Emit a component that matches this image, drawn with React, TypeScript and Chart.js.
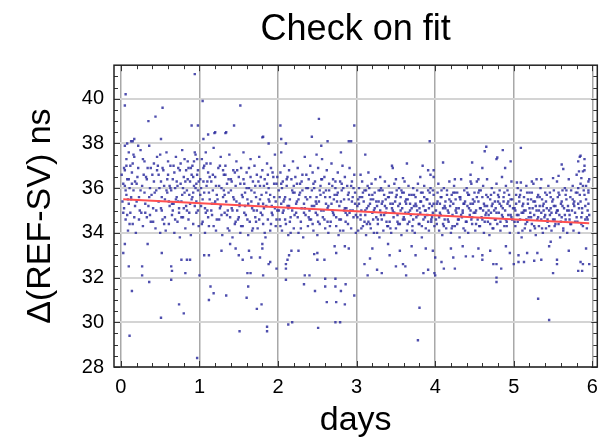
import { useEffect, useRef } from "react";
import { Chart, registerables } from "chart.js";
Chart.register(...registerables);

const FONT = "'Liberation Sans', Arial, sans-serif";

const titleText = "Check on fit";
const xTitle = "days";
const yTitle = "Δ(REF-SV) ns";

const xMinorTicks = [0,0.2,0.4,0.6,0.8,1,1.2,1.4,1.6,1.8,2,2.2,2.4,2.6,2.8,3,3.2,3.4,3.6,3.8,4,4.2,4.4,4.6,4.8,5,5.2,5.4,5.6,5.8,6];
const yMinorTicks = [28,28.5,29,29.5,30,30.5,31,31.5,32,32.5,33,33.5,34,34.5,35,35.5,36,36.5,37,37.5,38,38.5,39,39.5,40,40.5,41];

const fitX = [0.03, 5.96];
const fitY = [35.5, 34.43];

const day0: number[][] = [
[0.03,36.2],[0.04,35.1],[0.05,37.9],[0.05,36.8],[0.06,34.6],[0.07,35.7],[0.07,37.3],[0.08,36.4],[0.09,34.1],[0.1,35.3],[0.1,37.6],[0.11,36.0],[0.12,34.9],[0.12,37.0],[0.13,35.6],[0.14,36.7],[0.15,34.4],[0.15,38.1],[0.16,35.9],[0.17,37.4],[0.18,36.3],[0.19,34.0],[0.2,35.4],[0.22,36.9],[0.24,35.0],[0.25,37.7],[0.27,36.1],[0.28,34.3],[0.3,35.8],[0.3,37.2],[0.32,36.5],[0.33,34.7],[0.35,35.2],[0.36,37.9],[0.37,36.0],[0.38,34.5],[0.4,36.6],[0.41,35.1],[0.42,37.1],[0.44,34.2],[0.45,35.9],[0.46,36.8],[0.48,35.4],[0.5,34.0],[0.5,37.5],[0.51,36.3],[0.52,35.0],[0.53,34.6],[0.55,36.1],[0.56,35.5],[0.57,34.1],[0.58,37.6],[0.59,35.8],[0.6,36.6],[0.61,34.4],[0.62,35.2],[0.63,37.0],[0.64,35.9],[0.65,34.8],[0.66,36.4],[0.67,35.3],[0.68,34.0],[0.69,36.0],[0.7,37.4],[0.71,35.6],[0.72,34.5],[0.73,36.9],[0.74,35.1],[0.75,33.8],[0.76,36.2],[0.77,35.4],[0.78,37.7],[0.79,34.7],[0.8,36.5],[0.81,35.8],[0.82,34.2],[0.83,36.8],[0.84,35.0],[0.85,37.2],[0.86,34.6],[0.87,35.7],[0.88,36.3],[0.89,33.9],[0.9,35.5],[0.91,37.0],[0.92,34.4],[0.93,36.1],[0.94,35.2],[0.95,37.5],[0.96,34.9],[0.97,36.6],[0.98,35.9],[0.99,34.3],
[0.02,35.4],[0.04,36.9],[0.06,35.9],[0.08,34.8],[0.1,36.4],[0.13,35.5],[0.15,37.1],[0.17,34.7],[0.2,36.2],[0.23,35.6],[0.26,34.9],[0.29,36.6],[0.31,35.3],[0.34,36.9],[0.37,34.8],[0.39,35.7],[0.42,36.3],[0.45,35.0],[0.47,37.0],[0.49,36.0],[0.52,35.6],[0.54,36.8],[0.56,34.7],[0.59,36.4],[0.61,35.4],[0.63,36.0],[0.66,35.0],[0.68,36.7],[0.7,35.5],[0.72,36.1],[0.74,34.9],[0.76,37.1],[0.78,35.7],[0.8,35.1],[0.82,36.3],[0.84,35.9],[0.86,36.9],[0.88,35.3],[0.9,36.6],[0.92,35.8],[0.93,37.2],[0.95,36.0],[0.96,35.4],[0.97,37.3],[0.98,36.8],[0.99,36.3],
[0.01,36.6],[0.03,34.9],[0.05,36.1],[0.07,37.0],[0.09,35.5],[0.11,34.4],[0.14,36.2],[0.16,37.5],[0.18,35.2],[0.21,36.5],[0.23,34.6],[0.25,35.9],[0.28,37.3],[0.31,34.9],[0.33,36.4],[0.36,35.6],[0.38,36.9],[0.41,34.5],[0.43,35.8],[0.46,37.4],[0.48,36.6],[0.51,35.1],[0.53,36.9],[0.55,34.4],[0.58,35.9],[0.6,37.2],[0.62,36.1],[0.65,35.3],[0.67,37.0],[0.69,34.6],[0.71,36.3],[0.73,35.4],[0.75,36.8],[0.77,34.7],[0.79,36.0],[0.81,37.3],[0.83,35.2],[0.85,36.4],[0.87,34.9],[0.89,36.9],[0.91,35.6],[0.92,36.5],[0.94,37.6],[0.96,36.2],[0.98,35.0],
[0.06,40.2],[0.05,39.7],[0.53,39.6],[0.44,39.2],[0.35,39.0],[0.94,41.1],[0.9,38.8],[0.98,38.8],[0.51,38.2],[0.08,38.0],[0.13,38.1],[0.17,38.2],[0.22,37.9],
[0.03,33.1],[0.05,33.5],[0.34,33.5],[0.52,33.1],[0.77,32.8],[0.84,32.8],[0.88,32.8],[0.1,32.5],[0.27,32.5],[0.64,32.5],[0.27,32.1],[0.82,32.2],[0.65,32.3],[0.36,31.8],[0.64,31.9],[0.14,31.4],[0.74,30.8],[0.51,30.2],[0.8,30.4],[0.11,29.4],[0.97,28.4]
];

const day1: number[][] = [
[1.01,36.4],[1.02,35.2],[1.03,37.3],[1.04,34.5],[1.05,36.9],[1.06,35.8],[1.07,34.0],[1.08,37.6],[1.09,36.1],[1.1,35.0],[1.11,36.7],[1.12,34.3],[1.13,35.5],[1.14,37.1],[1.15,36.3],[1.16,34.8],[1.17,35.9],[1.18,37.8],[1.19,35.3],[1.2,36.5],[1.21,34.1],[1.22,35.7],[1.24,36.9],[1.25,34.6],[1.26,35.1],[1.27,37.4],[1.28,36.0],[1.29,33.9],[1.3,35.6],[1.31,36.6],[1.32,34.9],[1.33,37.0],[1.34,35.4],[1.35,36.2],[1.36,34.2],[1.37,35.8],[1.38,37.5],[1.39,34.7],[1.4,36.4],[1.41,35.1],[1.42,33.8],[1.43,36.8],[1.44,35.5],[1.45,34.4],[1.46,36.1],[1.47,37.2],[1.48,35.0],[1.49,34.6],[1.5,36.5],[1.51,35.3],[1.52,34.0],[1.53,36.9],[1.54,35.7],[1.55,34.3],[1.56,37.6],[1.57,36.2],[1.58,35.2],[1.59,34.8],[1.6,36.7],[1.61,35.5],[1.62,33.9],[1.63,36.0],[1.64,34.5],[1.65,37.3],[1.66,35.9],[1.67,34.1],[1.68,36.3],[1.69,35.0],[1.7,37.0],[1.71,34.7],[1.72,35.6],[1.73,36.6],[1.74,34.2],[1.75,35.3],[1.76,37.4],[1.77,36.1],[1.78,34.9],[1.79,35.7],[1.8,36.8],[1.81,34.4],[1.82,35.1],[1.83,36.4],[1.84,33.8],[1.85,35.8],[1.86,37.1],[1.87,34.6],[1.88,36.0],[1.89,35.4],[1.9,34.1],[1.91,36.9],[1.92,35.2],[1.93,34.8],[1.94,36.5],[1.95,35.6],[1.96,37.5],[1.97,34.3],[1.98,36.2],[1.99,35.0],
[1.02,36.0],[1.04,35.5],[1.06,37.0],[1.08,34.9],[1.1,36.3],[1.12,35.8],[1.15,35.0],[1.17,36.6],[1.2,35.4],[1.22,34.6],[1.25,36.1],[1.27,35.2],[1.3,36.8],[1.32,35.7],[1.35,34.8],[1.37,36.4],[1.4,35.9],[1.42,35.0],[1.45,36.7],[1.47,35.4],[1.5,34.7],[1.52,36.2],[1.55,35.6],[1.57,34.9],[1.6,36.0],[1.62,35.3],[1.65,36.5],[1.67,35.1],[1.7,35.8],[1.72,34.5],[1.75,36.3],[1.77,35.5],[1.8,34.8],[1.82,36.1],[1.85,35.2],[1.87,36.6],[1.9,35.7],[1.92,34.9],[1.95,36.2],[1.97,35.4],[1.99,36.5],
[1.01,35.7],[1.03,34.4],[1.05,36.3],[1.07,35.1],[1.09,37.1],[1.11,34.7],[1.13,36.5],[1.16,35.3],[1.18,34.3],[1.21,36.1],[1.23,35.5],[1.26,37.0],[1.28,34.8],[1.31,35.9],[1.33,36.6],[1.36,35.0],[1.38,34.1],[1.41,36.3],[1.43,35.6],[1.46,34.5],[1.48,36.8],[1.51,35.2],[1.53,34.3],[1.56,36.4],[1.58,35.8],[1.61,34.6],[1.63,36.9],[1.66,35.4],[1.68,34.2],[1.71,36.1],[1.73,35.0],[1.76,34.6],[1.78,36.5],[1.81,35.3],[1.83,34.0],[1.86,36.2],[1.88,35.5],[1.91,34.4],[1.93,36.7],[1.96,35.1],[1.98,34.6],
[1.04,39.9],[1.52,39.7],[1.44,38.8],[1.2,38.5],[1.34,38.5],[1.11,38.4],[1.05,38.2],[1.81,38.3],[1.88,38.0],[1.33,38.46],[1.19,38.46],[1.8,38.27],
[1.06,33.0],[1.12,33.0],[1.28,33.2],[1.39,33.5],[1.46,33.3],[1.5,33.0],[1.63,33.2],[1.8,33.3],[1.8,33.5],[1.55,32.8],[1.66,32.9],[1.77,32.9],[1.9,32.7],[1.88,32.6],[1.98,32.4],[1.61,32.2],[1.65,32.2],[1.81,32.1],[1.0,32.1],[1.14,31.6],[1.62,31.6],[1.18,31.3],[1.34,31.2],[1.6,31.1],[1.12,31.0],[1.79,30.8],[1.73,30.6],[1.51,29.6],[1.86,29.6],[1.86,29.8]
];

const day2: number[][] = [
[2.01,35.9],[2.02,34.6],[2.03,36.7],[2.04,35.3],[2.05,34.1],[2.06,36.3],[2.07,35.0],[2.08,37.0],[2.09,35.6],[2.1,34.4],[2.11,36.1],[2.12,35.2],[2.13,33.9],[2.14,36.8],[2.15,35.5],[2.16,34.7],[2.17,36.4],[2.18,35.0],[2.19,37.2],[2.2,34.2],[2.21,35.8],[2.22,36.5],[2.23,34.9],[2.24,35.4],[2.25,36.9],[2.26,34.0],[2.27,35.7],[2.28,36.2],[2.29,34.5],[2.3,35.1],[2.31,36.6],[2.32,33.8],[2.33,35.3],[2.34,37.4],[2.35,34.8],[2.36,36.0],[2.37,35.5],[2.38,34.3],[2.39,36.4],[2.4,35.0],[2.41,37.0],[2.42,34.6],[2.43,35.9],[2.44,36.7],[2.45,34.1],[2.46,35.2],[2.47,36.3],[2.48,34.9],[2.49,35.6],[2.5,33.9],[2.51,36.9],[2.52,35.4],[2.53,34.4],[2.54,36.1],[2.55,35.0],[2.56,37.3],[2.57,34.7],[2.58,35.8],[2.59,36.5],[2.6,34.2],[2.61,35.3],[2.62,36.8],[2.63,35.1],[2.64,34.0],[2.65,36.2],[2.66,35.6],[2.67,34.5],[2.68,37.1],[2.69,35.0],[2.7,36.4],[2.71,34.8],[2.72,35.7],[2.73,36.0],[2.74,34.3],[2.75,35.4],[2.76,36.7],[2.77,33.9],[2.78,35.2],[2.79,36.3],[2.8,34.6],[2.81,35.9],[2.82,37.0],[2.83,34.1],[2.84,35.5],[2.85,36.5],[2.86,34.9],[2.87,35.1],[2.88,36.1],[2.89,34.4],[2.9,35.8],[2.91,36.9],[2.92,35.0],[2.93,34.2],[2.94,36.3],[2.95,35.6],[2.96,34.7],[2.97,36.6],[2.98,35.3],[2.99,34.0],
[2.02,35.6],[2.04,36.2],[2.06,34.9],[2.08,35.5],[2.11,36.4],[2.13,35.1],[2.15,34.5],[2.18,35.9],[2.2,36.1],[2.23,35.3],[2.25,34.7],[2.28,35.8],[2.3,36.3],[2.33,34.9],[2.35,35.6],[2.38,36.0],[2.4,34.6],[2.43,35.2],[2.45,36.2],[2.48,35.4],[2.5,34.8],[2.53,35.9],[2.55,36.4],[2.58,35.0],[2.6,35.6],[2.63,34.5],[2.65,35.9],[2.68,35.3],[2.7,34.9],[2.73,36.3],[2.75,35.7],[2.78,34.6],[2.8,35.4],[2.83,36.0],[2.85,35.1],[2.88,34.8],[2.9,35.5],[2.93,36.1],[2.95,35.0],[2.98,35.8],
[2.01,35.0],[2.03,34.3],[2.05,36.0],[2.07,35.4],[2.09,34.6],[2.12,36.5],[2.14,35.2],[2.16,34.0],[2.19,35.8],[2.21,34.8],[2.24,36.2],[2.26,35.5],[2.29,34.2],[2.31,35.9],[2.34,35.1],[2.36,36.6],[2.39,34.7],[2.41,35.6],[2.44,34.4],[2.46,36.0],[2.49,35.3],[2.51,34.5],[2.54,35.7],[2.56,36.4],[2.59,34.6],[2.61,35.9],[2.64,35.2],[2.66,34.3],[2.69,36.1],[2.71,35.5],[2.74,34.7],[2.76,35.8],[2.79,34.1],[2.81,36.2],[2.84,35.0],[2.86,34.5],[2.89,35.7],[2.91,34.9],[2.94,35.4],[2.96,36.0],[2.99,34.8],
[2.03,38.8],[2.52,39.1],[2.97,38.8],[2.43,38.3],[2.04,38.2],[2.1,38.0],[2.55,37.9],[2.63,38.1],[2.9,38.1],[2.8,37.6],[2.49,37.5],[2.04,37.6],[2.93,38.1],
[2.1,32.4],[2.1,32.6],[2.12,32.8],[2.14,33.0],[2.17,33.2],[2.26,33.2],[2.46,33.05],[2.5,33.1],[2.5,32.8],[2.59,32.8],[2.74,33.1],[2.72,33.4],[2.85,33.4],[2.9,33.3],[2.1,31.9],[2.33,31.7],[2.4,32.1],[2.34,32.1],[2.6,31.95],[2.73,31.95],[2.6,31.6],[2.73,31.6],[2.8,31.4],[2.86,31.7],[2.97,31.2],[2.47,31.4],[2.62,30.9],[2.74,30.9],[2.85,30.8],[2.13,29.9],[2.18,30.0],[2.51,29.75],[2.73,30.0],[2.79,30.0]
];

const day3: number[][] = [
[3.01,35.2],[3.02,34.1],[3.03,36.0],[3.04,35.6],[3.05,34.6],[3.06,35.0],[3.07,36.3],[3.08,34.3],[3.09,35.4],[3.1,35.9],[3.11,34.8],[3.12,33.9],[3.13,35.1],[3.14,36.1],[3.15,34.5],[3.16,35.7],[3.17,35.3],[3.18,34.2],[3.19,36.2],[3.2,34.9],[3.21,35.5],[3.22,34.0],[3.23,35.8],[3.24,36.4],[3.25,34.7],[3.26,35.2],[3.27,34.4],[3.28,35.9],[3.29,33.8],[3.3,35.0],[3.31,36.0],[3.32,34.6],[3.33,35.4],[3.34,34.1],[3.35,35.7],[3.36,36.3],[3.37,34.9],[3.38,35.1],[3.39,34.3],[3.4,35.6],[3.41,36.1],[3.42,34.5],[3.43,35.3],[3.44,34.0],[3.45,35.8],[3.46,35.0],[3.47,34.7],[3.48,36.2],[3.49,35.4],[3.5,34.2],[3.51,35.9],[3.52,34.8],[3.53,35.2],[3.54,36.0],[3.55,34.4],[3.56,35.6],[3.57,33.9],[3.58,35.1],[3.59,34.6],[3.6,35.8],[3.61,36.3],[3.62,34.9],[3.63,35.3],[3.64,34.1],[3.65,35.5],[3.66,36.1],[3.67,34.5],[3.68,35.0],[3.69,34.8],[3.7,35.7],[3.71,34.3],[3.72,36.0],[3.73,35.2],[3.74,34.0],[3.75,35.6],[3.76,34.7],[3.77,35.9],[3.78,36.2],[3.79,34.4],[3.8,35.1],[3.81,34.9],[3.82,35.4],[3.83,33.8],[3.84,35.8],[3.85,34.6],[3.86,36.1],[3.87,35.0],[3.88,34.2],[3.89,35.5],[3.9,34.8],[3.91,35.9],[3.92,34.1],[3.93,35.3],[3.94,36.0],[3.95,34.5],[3.96,35.2],[3.97,34.9],[3.98,35.7],[3.99,34.3],
[3.02,35.5],[3.05,34.8],[3.07,35.6],[3.1,34.5],[3.12,35.9],[3.15,35.2],[3.17,34.4],[3.2,35.7],[3.22,35.0],[3.25,35.4],[3.27,34.6],[3.3,35.9],[3.32,35.3],[3.35,34.8],[3.37,35.5],[3.4,34.3],[3.42,35.8],[3.45,35.1],[3.47,34.9],[3.5,35.6],[3.52,34.5],[3.55,35.3],[3.57,35.9],[3.6,34.7],[3.62,35.4],[3.65,34.4],[3.67,35.7],[3.7,35.1],[3.72,34.6],[3.75,35.3],[3.77,35.0],[3.8,34.4],[3.82,35.8],[3.85,35.2],[3.87,34.7],[3.9,35.5],[3.92,35.1],[3.95,34.6],[3.97,35.9],
[3.01,34.7],[3.03,35.3],[3.06,34.2],[3.08,35.8],[3.11,35.0],[3.13,34.4],[3.16,36.0],[3.18,35.5],[3.21,34.6],[3.23,35.1],[3.26,34.0],[3.28,35.4],[3.31,34.8],[3.33,35.9],[3.36,35.2],[3.38,34.5],[3.41,35.6],[3.43,34.2],[3.46,35.3],[3.48,34.9],[3.51,35.7],[3.53,34.4],[3.56,35.0],[3.58,35.8],[3.61,34.6],[3.63,35.5],[3.66,34.9],[3.68,35.3],[3.71,34.1],[3.73,35.7],[3.76,35.2],[3.78,34.8],[3.81,35.4],[3.83,34.3],[3.86,35.6],[3.88,35.0],[3.91,34.5],[3.93,35.8],[3.96,34.7],[3.98,35.3],
[3.11,37.5],[3.45,37.0],[3.46,36.9],[3.64,37.1],[3.84,37.0],[3.91,36.8],[3.3,36.5],[3.5,36.4],[3.59,36.45],[3.81,36.5],[3.94,36.6],[3.05,36.6],[3.15,36.7],[3.93,38.1],
[3.14,32.1],[3.26,32.35],[3.32,32.2],[3.42,33.0],[3.5,32.5],[3.59,32.6],[3.63,32.1],[3.62,32.5],[3.85,32.2],[3.91,32.35],[4.0,32.1],[3.1,32.6],[3.17,32.85],[3.8,30.65],[3.78,29.2],[3.2,33.3],[3.4,33.5],[3.55,33.2],[3.7,33.4],[3.75,33.0],[3.88,33.3],[3.97,33.2]
];

const day4: number[][] = [
[4.01,35.0],[4.02,34.4],[4.03,35.8],[4.04,36.2],[4.05,34.1],[4.06,35.3],[4.07,34.8],[4.08,35.6],[4.09,33.9],[4.1,35.1],[4.11,36.0],[4.12,34.6],[4.13,35.4],[4.14,34.2],[4.15,35.9],[4.16,35.0],[4.17,34.5],[4.18,36.3],[4.19,35.2],[4.2,34.0],[4.21,35.7],[4.22,34.8],[4.23,35.3],[4.24,36.1],[4.25,34.3],[4.26,35.5],[4.27,34.9],[4.28,35.8],[4.29,34.6],[4.3,35.1],[4.31,33.8],[4.32,35.6],[4.33,36.4],[4.34,34.7],[4.35,35.0],[4.36,34.2],[4.37,35.9],[4.38,35.4],[4.39,34.5],[4.4,36.0],[4.41,35.2],[4.42,34.0],[4.43,35.7],[4.44,34.8],[4.45,35.3],[4.46,36.2],[4.47,34.4],[4.48,35.5],[4.49,34.9],[4.5,35.8],[4.51,34.1],[4.52,35.0],[4.53,36.3],[4.54,34.6],[4.55,35.4],[4.56,35.9],[4.57,34.3],[4.58,35.1],[4.59,34.7],[4.6,35.6],[4.61,36.1],[4.62,34.0],[4.63,35.2],[4.64,34.8],[4.65,35.7],[4.66,36.4],[4.67,34.5],[4.68,35.0],[4.69,33.9],[4.7,35.5],[4.71,34.9],[4.72,36.0],[4.73,35.3],[4.74,34.2],[4.75,35.8],[4.76,34.6],[4.77,35.1],[4.78,36.2],[4.79,34.4],[4.8,35.4],[4.81,34.9],[4.82,35.9],[4.83,34.1],[4.84,35.2],[4.85,36.5],[4.86,34.7],[4.87,35.6],[4.88,34.3],[4.89,35.0],[4.9,36.1],[4.91,34.5],[4.92,35.3],[4.93,34.8],[4.94,35.7],[4.95,34.0],[4.96,35.5],[4.97,36.3],[4.98,34.6],[4.99,35.1],
[4.02,35.3],[4.05,34.7],[4.07,35.6],[4.1,34.4],[4.12,35.2],[4.15,35.7],[4.17,34.9],[4.2,35.4],[4.22,34.3],[4.25,35.8],[4.27,35.1],[4.3,34.6],[4.32,35.5],[4.35,34.9],[4.37,35.3],[4.4,34.5],[4.42,35.7],[4.45,35.0],[4.47,34.7],[4.5,35.4],[4.52,34.4],[4.55,35.8],[4.57,35.1],[4.6,34.6],[4.62,35.3],[4.65,34.9],[4.67,35.6],[4.7,34.4],[4.72,35.2],[4.75,35.0],[4.77,34.6],[4.8,35.7],[4.82,35.3],[4.85,34.8],[4.87,35.4],[4.9,34.6],[4.92,35.9],[4.95,35.2],[4.97,34.7],
[4.01,34.6],[4.03,35.4],[4.06,34.9],[4.08,35.9],[4.11,34.3],[4.13,35.1],[4.16,34.6],[4.18,35.5],[4.21,34.2],[4.23,35.8],[4.26,35.0],[4.28,34.4],[4.31,35.6],[4.33,34.8],[4.36,35.3],[4.38,34.1],[4.41,35.8],[4.43,35.1],[4.46,34.6],[4.48,35.3],[4.51,34.9],[4.53,35.6],[4.56,34.3],[4.58,35.9],[4.61,35.0],[4.63,34.5],[4.66,35.2],[4.68,34.8],[4.71,35.7],[4.73,34.2],[4.76,35.4],[4.78,34.9],[4.81,35.6],[4.83,34.5],[4.86,35.1],[4.88,35.8],[4.91,34.3],[4.93,35.4],[4.96,34.8],[4.98,35.5],
[4.65,37.85],[4.63,37.65],[4.86,37.7],[4.1,37.15],[4.47,37.15],[4.6,36.9],[4.78,37.3],[4.89,36.9],[3.98,36.8],[4.25,36.4],[4.45,36.6],[4.55,36.4],[4.79,37.37],[4.96,37.2],[3.98,36.5],[4.45,36.3],
[4.78,32.0],[4.78,31.8],[4.84,32.4],[4.74,32.6],[4.78,32.6],[4.6,32.8],[4.6,33.0],[4.25,32.4],[4.11,32.4],[4.08,32.7],[4.0,32.9],[4.23,32.9],[4.39,32.95],[4.48,32.95],[3.99,32.2],[4.2,33.3],[4.35,33.4],[4.55,33.3],[4.7,33.2],[4.9,33.4],[4.95,33.1]
];

const day5: number[][] = [
[5.01,35.1],[5.02,34.3],[5.03,35.7],[5.04,34.8],[5.05,36.0],[5.06,34.0],[5.07,35.4],[5.08,34.6],[5.09,35.9],[5.1,33.8],[5.11,35.2],[5.12,34.9],[5.13,35.6],[5.14,34.2],[5.15,35.0],[5.16,36.1],[5.17,34.5],[5.18,35.3],[5.19,34.7],[5.2,35.8],[5.21,34.1],[5.22,35.5],[5.23,34.4],[5.24,35.1],[5.25,36.2],[5.26,34.8],[5.27,35.4],[5.28,33.9],[5.29,35.0],[5.3,34.6],[5.31,35.7],[5.32,34.3],[5.33,35.2],[5.34,36.0],[5.35,34.9],[5.36,35.5],[5.37,34.0],[5.38,35.3],[5.39,34.7],[5.4,35.8],[5.41,34.2],[5.42,35.1],[5.43,34.5],[5.44,36.1],[5.45,35.0],[5.46,34.8],[5.47,35.6],[5.48,34.1],[5.49,35.4],[5.5,34.6],[5.51,35.9],[5.52,34.3],[5.53,35.2],[5.54,34.9],[5.55,36.3],[5.56,35.0],[5.57,34.4],[5.58,35.7],[5.59,33.8],[5.6,35.3],[5.61,34.7],[5.62,35.9],[5.63,34.2],[5.64,35.1],[5.65,36.0],[5.66,34.6],[5.67,35.5],[5.68,34.0],[5.69,35.2],[5.7,36.4],[5.71,34.8],[5.72,35.6],[5.73,34.4],[5.74,35.0],[5.75,36.1],[5.76,34.1],[5.77,35.4],[5.78,34.9],[5.79,35.8],[5.8,36.6],[5.81,34.5],[5.82,35.3],[5.83,34.0],[5.84,35.7],[5.85,36.2],[5.86,34.7],[5.87,35.1],[5.88,34.3],[5.89,35.9],[5.9,36.8],[5.91,34.6],[5.92,35.5],[5.93,34.2],[5.94,35.0],[5.95,36.3],[5.96,34.8],
[5.02,35.0],[5.05,34.5],[5.07,35.6],[5.1,34.9],[5.12,35.3],[5.15,34.4],[5.17,35.8],[5.2,35.1],[5.22,34.7],[5.25,35.4],[5.27,34.2],[5.3,35.6],[5.32,35.0],[5.35,34.6],[5.37,35.2],[5.4,34.8],[5.42,35.7],[5.45,34.3],[5.47,35.1],[5.5,35.5],[5.52,34.6],[5.55,35.0],[5.57,35.8],[5.6,34.5],[5.62,35.2],[5.65,34.8],[5.67,35.9],[5.7,35.0],[5.72,34.4],[5.75,35.5],[5.77,35.2],[5.8,34.7],[5.82,36.0],[5.85,35.4],[5.87,34.9],[5.9,35.7],[5.92,36.1],[5.94,34.6],[5.95,35.3],
[5.01,34.5],[5.03,35.3],[5.06,34.8],[5.08,35.7],[5.11,34.1],[5.13,35.0],[5.16,34.6],[5.18,35.5],[5.21,34.9],[5.23,35.8],[5.26,34.3],[5.28,35.2],[5.31,34.7],[5.33,35.6],[5.36,34.2],[5.38,35.0],[5.41,35.4],[5.43,34.6],[5.46,35.8],[5.48,34.9],[5.51,35.2],[5.53,34.4],[5.56,35.6],[5.58,34.8],[5.61,35.4],[5.63,34.1],[5.66,35.7],[5.68,35.0],[5.71,34.6],[5.73,35.9],[5.76,35.3],[5.78,34.5],[5.81,35.8],[5.83,35.1],[5.86,34.4],[5.88,36.1],[5.91,35.2],[5.93,34.7],[5.95,35.8],[5.96,36.4],
[5.09,37.8],[5.85,37.45],[5.9,37.3],[5.84,37.4],[5.61,37.06],[5.63,36.86],[5.5,36.45],[5.57,36.55],[5.82,37.2],[5.86,36.45],[5.83,36.75],[5.23,36.3],[5.29,36.4],[5.35,36.4],[5.9,37.0],[5.88,36.75],[5.95,35.9],[5.04,36.25],[5.09,36.25],
[5.45,30.1],[5.31,31.05],[5.5,32.2],[5.87,32.3],[5.82,32.3],[5.0,32.6],[5.06,32.7],[5.13,32.7],[5.26,32.75],[5.35,32.8],[5.55,32.8],[5.55,32.6],[5.85,32.7],[5.88,32.6],[5.96,32.6],[5.06,33.0],[5.17,33.1],[5.3,33.1],[5.45,33.4],[5.47,33.6],[5.7,33.2],[5.92,33.3]
];

const framePlugin = {
  id: "frame",
  afterDraw(chart: any) {
    const { ctx, chartArea, scales } = chart;
    const { left, right, top, bottom } = chartArea;
    const xs = scales.x;
    const ys = scales.y;
    ctx.save();
    ctx.strokeStyle = "#333";
    ctx.lineWidth = 1;
    ctx.beginPath();
    for (const v of xMinorTicks) {
      const px = Math.round(xs.getPixelForValue(v)) + 0.5;
      const len = Number.isInteger(v) ? 6 : 4;
      ctx.moveTo(px, bottom); ctx.lineTo(px, bottom - len);
      ctx.moveTo(px, top); ctx.lineTo(px, top + len);
    }
    for (const v of yMinorTicks) {
      const py = Math.round(ys.getPixelForValue(v)) + 0.5;
      const len = v % 2 === 0 ? 6 : 4;
      ctx.moveTo(left, py); ctx.lineTo(left + len, py);
      ctx.moveTo(right, py); ctx.lineTo(right - len, py);
    }
    ctx.stroke();
    ctx.strokeStyle = "#222";
    ctx.lineWidth = 1.5;
    ctx.strokeRect(left, top, right - left, bottom - top);
    ctx.restore();
  },
};

export default function App() {
  const ref = useRef<HTMLCanvasElement>(null);
  useEffect(() => {
    document.body.style.margin = "0";
    const pts = [...day0, ...day1, ...day2, ...day3, ...day4, ...day5].map(([x, y]) => ({ x, y }));
    const fit = fitX.map((x, i) => ({ x, y: fitY[i] }));
    const chart = new Chart(ref.current as HTMLCanvasElement, {
      type: "scatter",
      data: {
        datasets: [
          {
            type: "line",
            data: fit,
            borderColor: "#ff5050",
            borderWidth: 2,
            pointRadius: 0,
            fill: false,
          } as any,
          {
            data: pts,
            pointStyle: "rect",
            pointRadius: 1.7,
            backgroundColor: "rgba(48,48,160,0.85)",
            borderWidth: 0,
          },
        ],
      },
      options: {
        responsive: false,
        animation: false,
        layout: { padding: { right: 5, left: 0, top: 0, bottom: 0 } },
        plugins: {
          legend: { display: false },
          tooltip: { enabled: false },
          title: {
            display: true,
            fullSize: false,
            text: titleText,
            color: "#000",
            font: { family: FONT, size: 36, weight: "normal" },
            padding: { top: 8, bottom: 14 },
          },
        },
        scales: {
          x: {
            type: "linear",
            min: -0.088,
            max: 6.063,
            ticks: { stepSize: 1, includeBounds: false, color: "#000", font: { family: FONT, size: 20 }, padding: 8, maxRotation: 0 },
            grid: { color: "#a8a8a8", lineWidth: 1.5, drawTicks: false },
            border: { display: false },
            title: { display: true, text: xTitle, color: "#000", font: { family: FONT, size: 34 }, padding: { top: 0, bottom: 4 } },
            afterFit: (s: any) => { s.height = 78; },
          },
          y: {
            type: "linear",
            min: 28,
            max: 41.5,
            ticks: { stepSize: 2, includeBounds: false, color: "#000", font: { family: FONT, size: 20 }, padding: 10 },
            grid: { color: "#d4d4d4", lineWidth: 2, drawTicks: false },
            border: { display: false },
            title: { display: true, text: yTitle, color: "#000", font: { family: FONT, size: 34 }, padding: { top: 20, bottom: 0 } },
            afterFit: (s: any) => { s.width = 114; },
          },
        },
      } as any,
      plugins: [framePlugin],
    });
    return () => chart.destroy();
  }, []);
  return <canvas ref={ref} width={606} height={445} style={{ display: "block" }} />;
}
